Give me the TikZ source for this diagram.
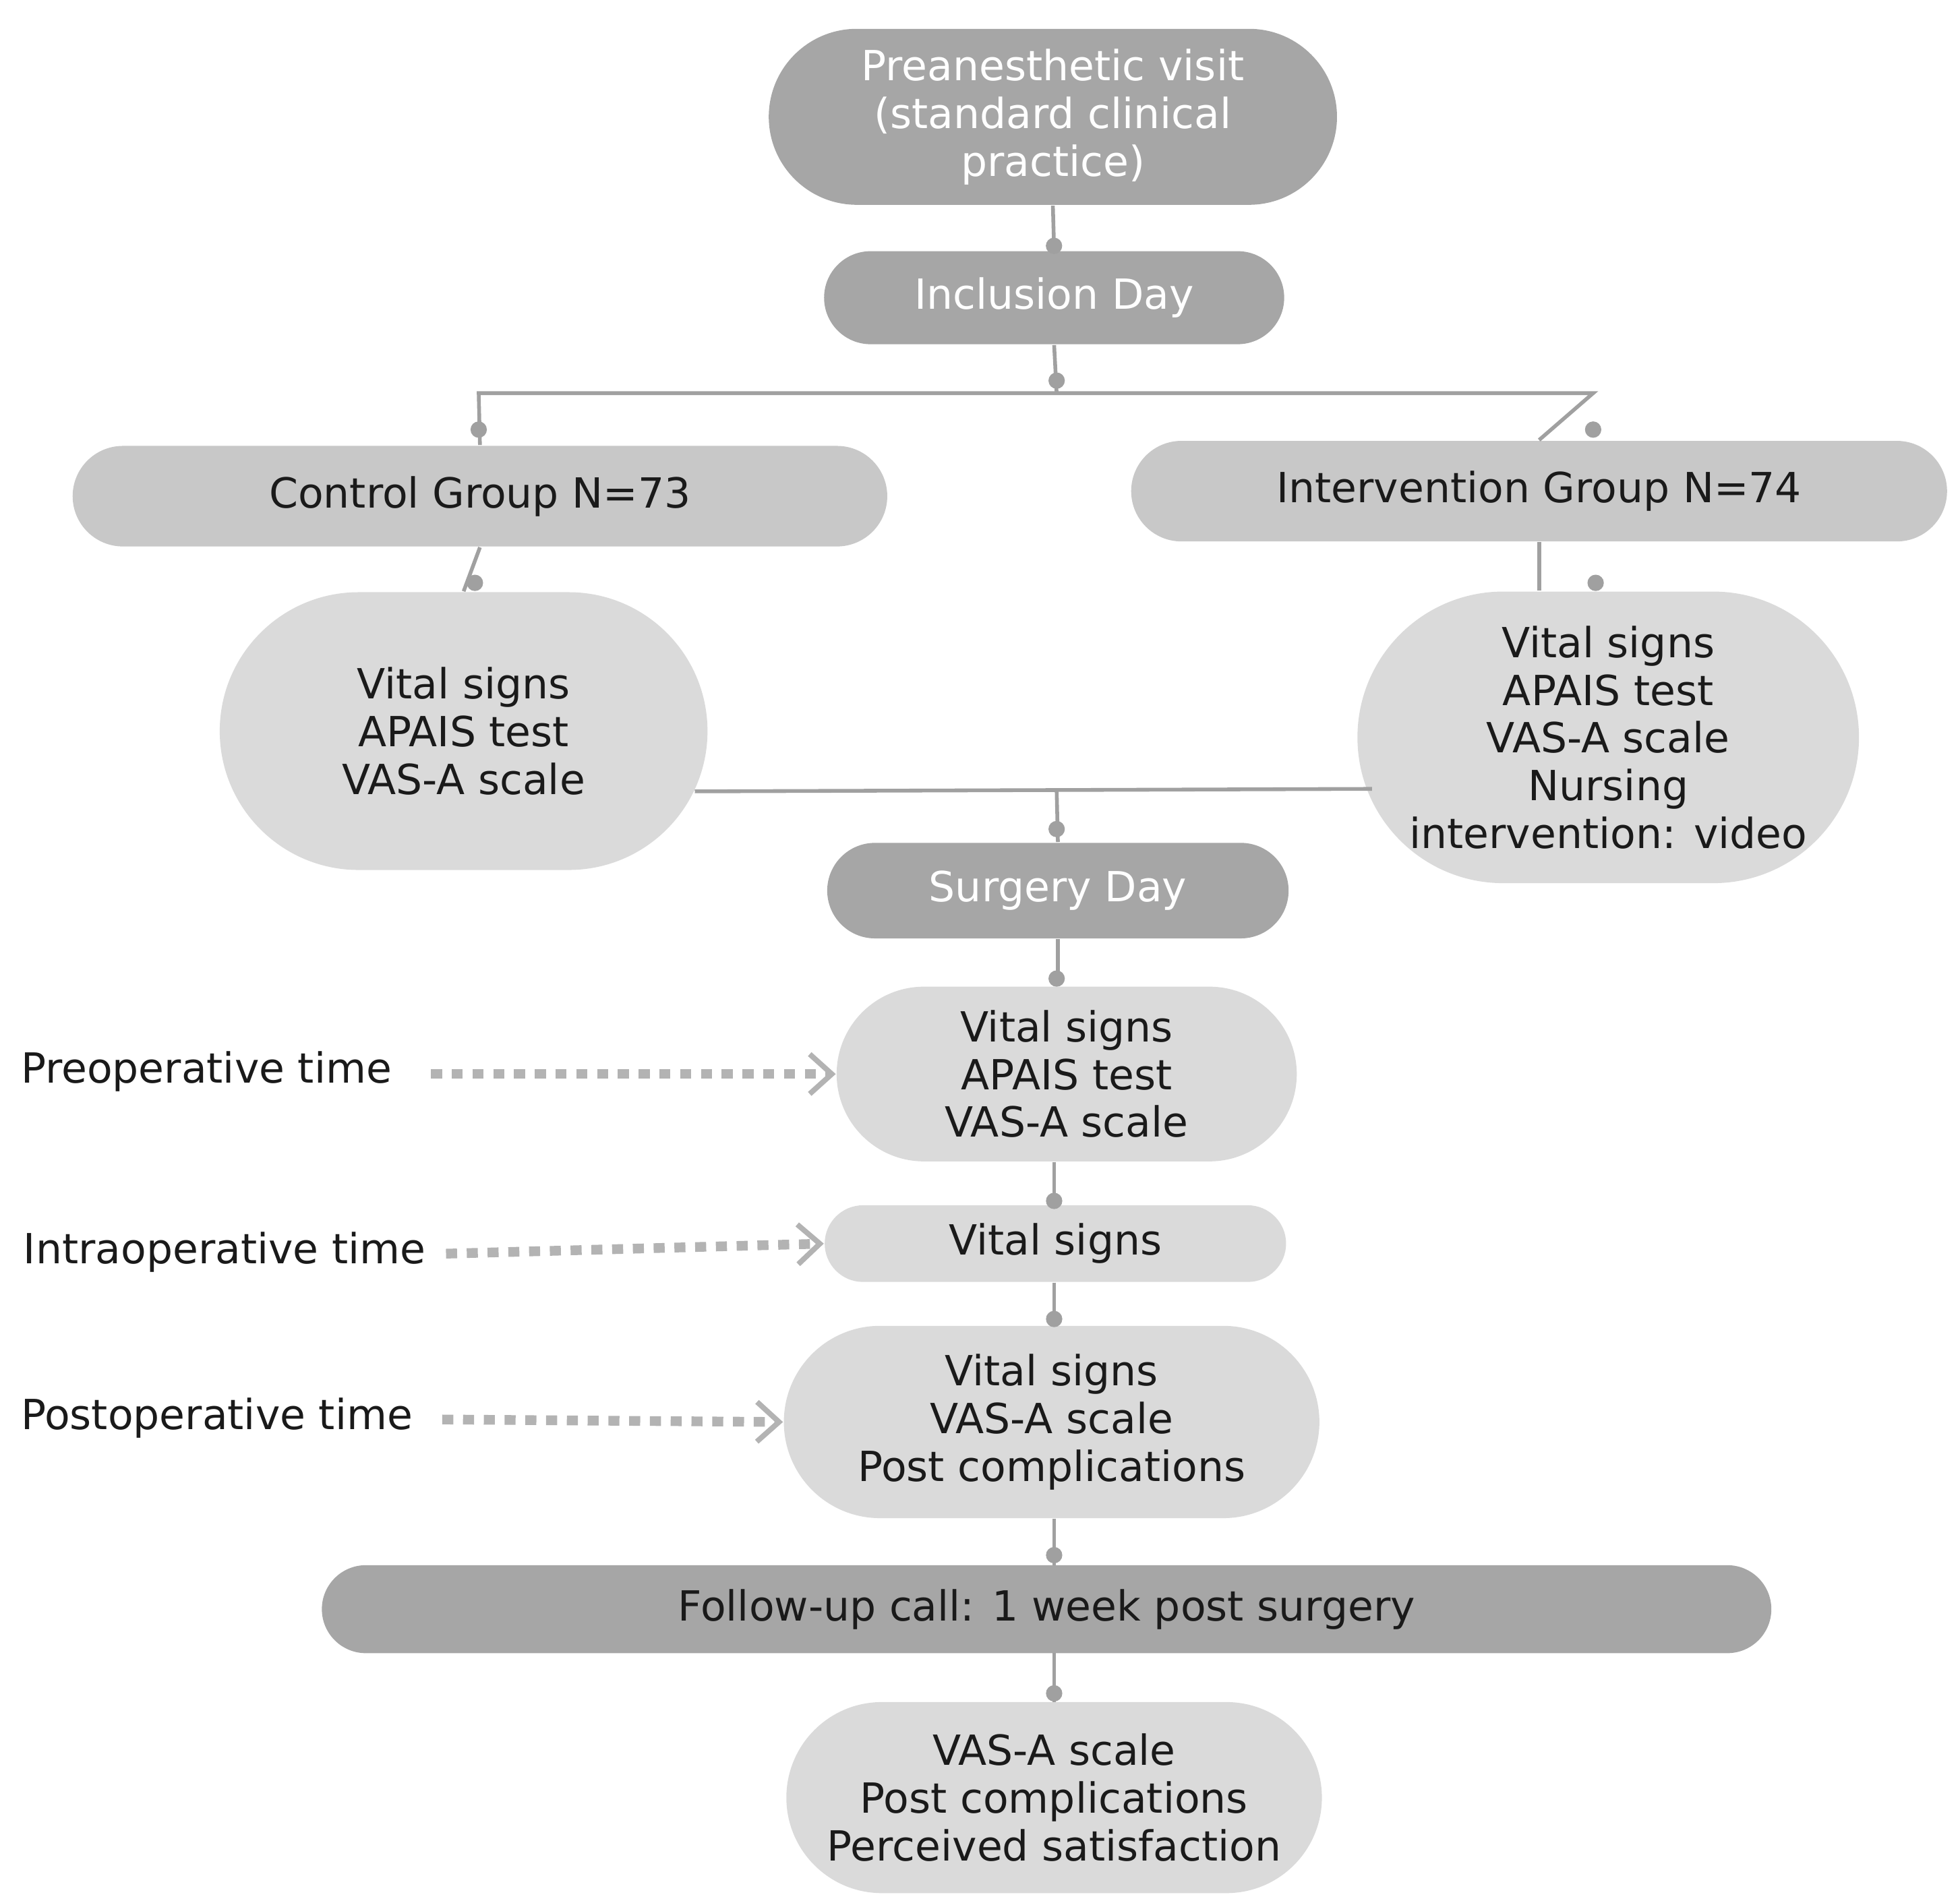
\documentclass[tikz,border=0pt]{standalone}
\usepackage{fontspec}
\setmainfont{DejaVu Sans}
\usetikzlibrary{shapes.misc,arrows.meta}
\definecolor{dk}{HTML}{A6A6A6}
\definecolor{md}{HTML}{C8C8C8}
\definecolor{lt}{HTML}{DADADA}
\definecolor{ln}{HTML}{A0A0A0}
\definecolor{tx}{HTML}{1A1A1A}
\begin{document}
\begin{tikzpicture}[x=0.01cm,y=-0.01cm,
 box/.style={rounded rectangle,inner sep=0pt,align=center,font=\fontsize{9.4pt}{10.8pt}\selectfont,text=tx},
 dark/.style={box,fill=dk,text=white},
 mid/.style={box,fill=md},
 light/.style={box,fill=lt},
 con/.style={draw=ln,line width=0.85pt},
 dot/.style={circle,fill=ln,inner sep=0pt,minimum size=0.13cm},
 lab/.style={anchor=west,inner sep=0pt,font=\fontsize{9.4pt}{10.8pt}\selectfont,text=tx},
 darr/.style={draw=ln!80,line width=2.2pt,dash pattern=on 2.5pt off 2.2pt,-{Straight Barb[length=5pt,width=9pt,line width=1.2pt]}}]
\useasboundingbox (0,0) rectangle (1560,1513);
\node[dark,minimum width=4.52cm,minimum height=1.40cm] (pre) at (838,93) {Preanesthetic visit\\(standard clinical\\practice)};
\node[dark,minimum width=3.66cm,minimum height=0.74cm] (inc) at (839,237) {Inclusion Day};
\node[mid,minimum width=6.48cm,minimum height=0.80cm] (ctl) at (382,395) {Control Group N=73};
\node[mid,minimum width=6.49cm,minimum height=0.80cm] (int) at (1225,391) {Intervention Group N=74};
\node[light,minimum width=3.88cm,minimum height=2.21cm] (cv) at (369,582) {Vital signs\\APAIS test\\VAS-A scale};
\node[light,minimum width=3.88cm,minimum height=2.32cm] (iv) at (1280,587) {Vital signs\\APAIS test\\VAS-A scale\\Nursing\\intervention: video};
\node[dark,minimum width=3.67cm,minimum height=0.76cm] (sd) at (842,709) {Surgery Day};
\node[light,minimum width=3.66cm,minimum height=1.39cm] (p1) at (849,855) {Vital signs\\APAIS test\\VAS-A scale};
\node[light,minimum width=3.67cm,minimum height=0.61cm] (p2) at (840,990) {Vital signs};
\node[light,minimum width=4.26cm,minimum height=1.53cm] (p3) at (837,1132) {Vital signs\\VAS-A scale\\Post complications};
\node[dark,text=tx,minimum width=11.53cm,minimum height=0.70cm] (fu) at (833,1281) {Follow-up call: 1 week post surgery};
\node[light,minimum width=4.26cm,minimum height=1.52cm] (fv) at (839,1431) {VAS-A scale\\Post complications\\Perceived satisfaction};
% connectors
\coordinate (b1) at (841,313);
\coordinate (m1) at (841,629);
\draw[con] (pre.south) -- node[dot,pos=0.9]{} (inc.north);
\draw[con] (inc.south) -- (b1);
\node[dot] at (841,303) {};
\draw[con] (ctl.north) -- (381,313) -- (1268,313) -- (int.north);
\node[dot] at (381,342) {};
\node[dot] at (1268,342) {};
\draw[con] (ctl.south) -- (cv.north);
\node[dot] at (378,464) {};
\draw[con] (int.south) -- (int.south|-iv.north);
\node[dot] at (1270,464) {};
\draw[con] (553,630) -- (1092,628);
\draw[con] (m1) -- (sd.north);
\node[dot] at (841,660) {};
\draw[con] (sd.south) -- (p1.north -| sd.south);
\node[dot] at (841,779) {};
\draw[con] (839,925) -- (839,960);
\node[dot] at (839,956) {};
\draw[con] (839,1021) -- (839,1056);
\node[dot] at (839,1050) {};
\draw[con] (839,1209) -- (839,1246);
\node[dot] at (839,1238) {};
\draw[con] (839,1316) -- (839,1355);
\node[dot] at (839,1348) {};
% labels
\node[lab] (l1) at (16,853) {Preoperative time};
\node[lab] (l2) at (18,997) {Intraoperative time};
\node[lab] (l3) at (16,1129) {Postoperative time};
\draw[darr] (343,855) -- (p1.west);
\draw[darr] (355,998) -- (p2.west);
\draw[darr] (352,1130) -- (p3.west);
\end{tikzpicture}
\end{document}
